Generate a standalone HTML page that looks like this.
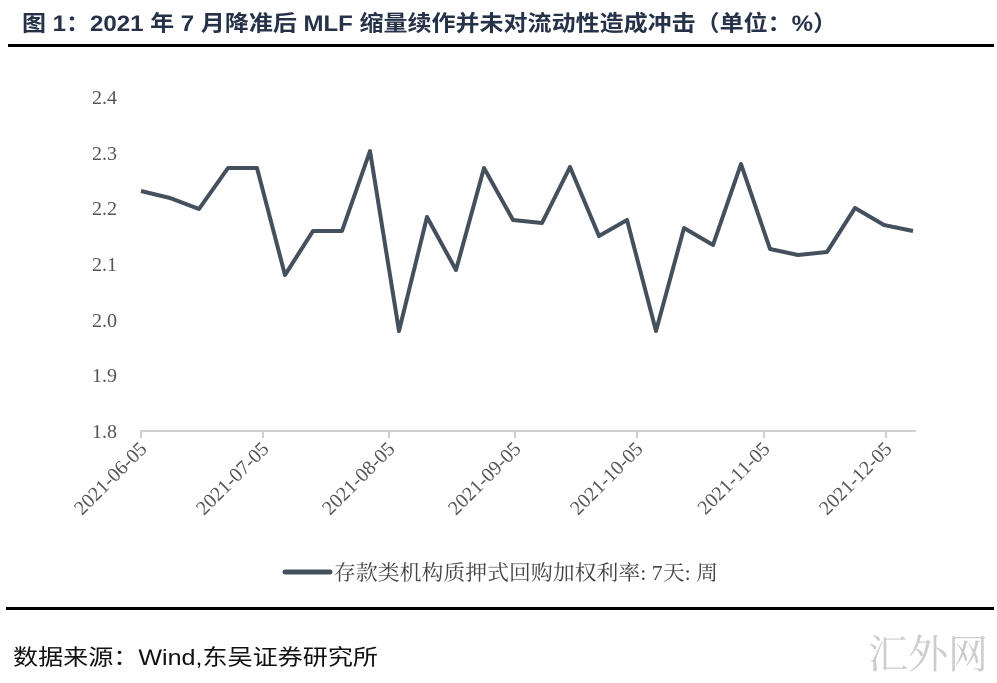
<!DOCTYPE html>
<html><head><meta charset="utf-8"><style>
body{margin:0;background:#fff;}
</style></head><body>
<svg width="997" height="683" xmlns="http://www.w3.org/2000/svg" style="display:block">
<text x="22" y="31" font-family="Liberation Sans, Noto Sans CJK SC, sans-serif" font-size="22" font-weight="bold" fill="#263248" textLength="815" lengthAdjust="spacingAndGlyphs">图 1：2021 年 7 月降准后 MLF 缩量续作并未对流动性造成冲击（单位：%）</text>
<rect x="8" y="44" width="986" height="3" fill="#000"/>
<g font-family="Liberation Serif, serif" font-size="20" fill="#555" text-anchor="end">
<text x="117" y="104">2.4</text>
<text x="117" y="160">2.3</text>
<text x="117" y="215">2.2</text>
<text x="117" y="271">2.1</text>
<text x="117" y="327">2.0</text>
<text x="117" y="382">1.9</text>
<text x="117" y="438">1.8</text>
</g>
<line x1="140" y1="431" x2="916" y2="431" stroke="#d0d0d0" stroke-width="2"/>
<g stroke="#d0d0d0" stroke-width="2">
<line x1="141" y1="431" x2="141" y2="438"/><line x1="263" y1="431" x2="263" y2="438"/>
<line x1="389" y1="431" x2="389" y2="438"/><line x1="515" y1="431" x2="515" y2="438"/>
<line x1="637" y1="431" x2="637" y2="438"/><line x1="764" y1="431" x2="764" y2="438"/>
<line x1="886" y1="431" x2="886" y2="438"/>
</g>
<g font-family="Liberation Serif, serif" font-size="20" fill="#555" text-anchor="end">
<text transform="translate(148,450) rotate(-45)">2021-06-05</text>
<text transform="translate(270,450) rotate(-45)">2021-07-05</text>
<text transform="translate(396,450) rotate(-45)">2021-08-05</text>
<text transform="translate(522,450) rotate(-45)">2021-09-05</text>
<text transform="translate(644,450) rotate(-45)">2021-10-05</text>
<text transform="translate(771,450) rotate(-45)">2021-11-05</text>
<text transform="translate(893,450) rotate(-45)">2021-12-05</text>
</g>
<polyline fill="none" stroke="#44505e" stroke-width="4" stroke-linejoin="round" points="141,191 170,198 199,209 228,168 257,168 285,275 313,231 342,231 370,151 399,331 427,217 456,270 484,168 513,220 542,223 570,167 599,236 627,220 656,331 684,228 713,245 741,164 770,249 798,255 827,252 855,208 884,225 913,231"/>
<line x1="285" y1="572" x2="330" y2="572" stroke="#44505e" stroke-width="5" stroke-linecap="round"/>
<text x="334" y="580" font-family="Liberation Serif, Noto Serif CJK SC, serif" font-size="21" fill="#444" textLength="384" lengthAdjust="spacingAndGlyphs">存款类机构质押式回购加权利率: 7天: 周</text>
<rect x="6" y="607" width="988" height="3" fill="#000"/>
<text x="13" y="665" font-family="Liberation Sans, Noto Sans CJK SC, sans-serif" font-size="22" fill="#111" textLength="365" lengthAdjust="spacingAndGlyphs">数据来源：Wind,东吴证券研究所</text>
<text x="868" y="668" font-family="Liberation Serif, Noto Serif CJK SC, serif" font-size="40" fill="#ccc">汇外网</text>
</svg>
</body></html>
